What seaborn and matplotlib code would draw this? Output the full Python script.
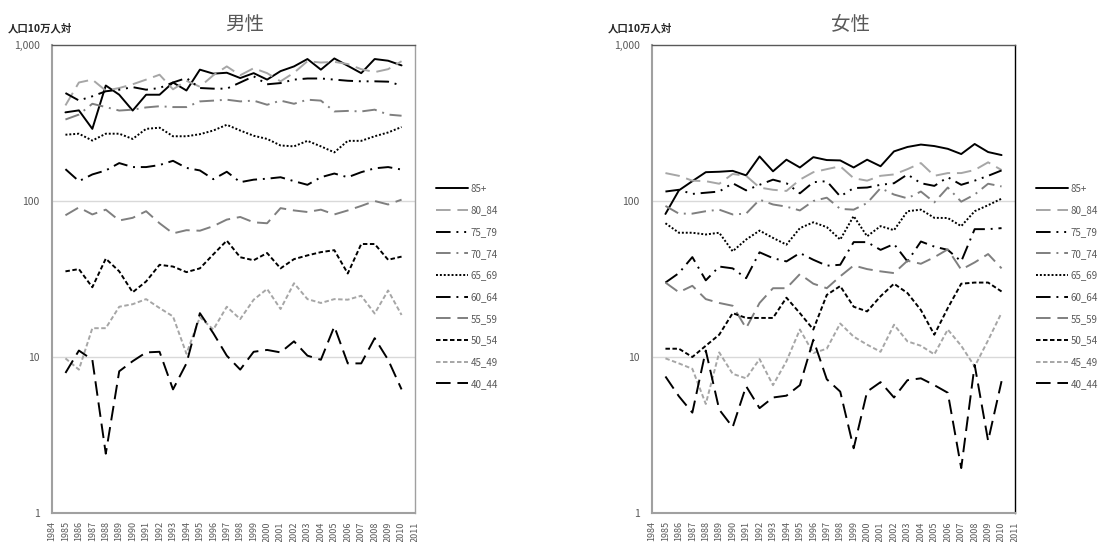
import matplotlib
matplotlib.use("Agg")
import matplotlib.pyplot as plt
import seaborn as sns
import numpy as np
import pandas as pd

years = list(range(1985, 2011))
age_groups = ["85+", "80_84", "75_79", "70_74", "65_69", "60_64", "55_59", "50_54", "45_49", "40_44"]

# 男性 (人口10万人対)
male_85 = [370, 381, 290, 550, 480, 380, 480, 480, 575, 511, 695, 655, 664, 614, 660, 600, 680, 729, 813, 695, 820, 736, 660, 813, 793, 740]
male_80_84 = [410, 575, 600, 510, 530, 560, 600, 645, 520, 590, 540, 640, 729, 640, 710, 660, 585, 664, 787, 772, 780, 755, 700, 670, 700, 787]
male_75_79 = [492, 441, 469, 505, 517, 537, 517, 530, 575, 614, 530, 525, 525, 575, 630, 560, 570, 600, 610, 610, 600, 590, 585, 585, 582, 550]
male_70_74 = [333, 358, 420, 400, 380, 385, 398, 405, 400, 400, 435, 440, 446, 435, 440, 414, 440, 420, 446, 440, 375, 378, 375, 385, 358, 352]
male_65_69 = [266, 270, 244, 270, 270, 250, 290, 295, 260, 260, 268, 283, 308, 283, 262, 250, 227, 224, 243, 224, 205, 243, 243, 260, 275, 298]
male_60_64 = [160, 134, 148, 157, 175, 165, 165, 170, 181, 163, 157, 138, 154, 132, 137, 139, 142, 134, 127, 142, 150, 142, 153, 162, 165, 159]
male_55_59 = [81, 91, 82, 88, 75, 78, 86, 72, 62, 65, 64.5, 69, 76, 79, 73, 72, 90, 87, 85, 88, 82, 87, 93, 100, 95, 102]
male_50_54 = [35.4, 36.6, 28, 42.7, 35.4, 26, 30.5, 39, 38, 35, 37, 45.5, 55.7, 43.6, 41.7, 46.4, 37, 42.4, 44.8, 47, 48.4, 34.3, 53, 53, 42, 44]
male_45_49 = [9.8, 8.3, 15.3, 15.3, 21, 21.8, 23.5, 20.6, 18.2, 10.5, 18, 15, 21, 17.5, 23.3, 27.3, 20.3, 29.7, 23.5, 22.2, 23.5, 23.3, 24.7, 19, 26.7, 18.6]
male_40_44 = [7.9, 11, 9.6, 2.4, 8.1, 9.4, 10.7, 10.8, 6.2, 9.1, 19.1, 14.2, 10.2, 8.3, 10.8, 11.1, 10.7, 12.6, 10.2, 9.6, 15.7, 9.1, 9.1, 13.2, 9.6, 6.2]

# 女性 (人口10万人対)
female_85 = [82.6, 117, 134, 153, 154, 156, 146, 193, 155, 184, 164, 191, 183, 182, 164, 184, 167, 208, 222, 230, 225, 216, 200, 232, 206, 197]
female_80_84 = [151, 145, 135, 134, 129, 149, 145, 122, 118, 116, 137, 153, 160, 167, 140, 135, 145, 148, 160, 175, 145, 151, 151, 158, 177, 158]
female_75_79 = [115, 118, 111, 113, 115, 130, 117, 127, 137, 130, 112, 132, 134, 107, 121, 122, 127, 130, 148, 130, 125, 142, 127, 135, 145, 157]
female_70_74 = [93, 83, 83, 86, 88, 82, 83, 102, 95, 92, 87, 100, 105, 89, 88, 97, 121, 110, 104, 115, 98, 122, 99, 110, 129, 124]
female_65_69 = [72, 62.6, 62.6, 61, 62.6, 47.6, 56.6, 64.6, 58, 52.5, 67, 73, 68, 56.6, 80, 59.4, 69, 65, 86, 88, 78, 77.8, 69, 86, 94, 103.5]
female_60_64 = [30, 34.5, 43.7, 31, 38, 37, 32, 46.9, 43, 41, 46.4, 42, 38.5, 39, 54.5, 54.5, 48.6, 53, 41, 55, 51, 48.6, 41, 66, 66, 67]
female_55_59 = [30, 26, 28.6, 23.5, 22.2, 21.3, 15.3, 22.2, 27.6, 27.6, 34, 29.5, 27.6, 32.9, 38.6, 36.6, 35.4, 34.5, 41.4, 39.6, 43.6, 49, 36.3, 40.4, 45.7, 37]
female_50_54 = [11.3, 11.3, 10, 11.8, 13.9, 19.1, 17.8, 17.8, 17.8, 24, 19.1, 15, 25, 28.5, 21, 19.6, 24.5, 29.5, 25.7, 20, 13.9, 20.6, 29.5, 30, 30, 26.3]
female_45_49 = [9.8, 9.1, 8.4, 5.0, 10.7, 7.8, 7.3, 9.7, 6.6, 9.4, 15, 10.6, 11.3, 16.4, 13.5, 12, 10.8, 16.1, 12.6, 11.8, 10.4, 15, 11.8, 8.7, 12.8, 19.2]
female_40_44 = [7.5, 5.6, 4.4, 11, 4.6, 3.55, 6.5, 4.7, 5.5, 5.65, 6.6, 12.9, 7.2, 6.0, 2.6, 6.0, 6.9, 5.5, 7.1, 7.3, 6.6, 5.9, 1.94, 8.9, 2.9, 7.0]

x_ticks = list(range(1984, 2012))
y_ticks = [1, 10, 100, 1000]
y_tick_labels = ["1", "10", "100", "1,000"]

# 系列ごとの色と線種
palette = {
    "85+": "#000000", "80_84": "#A6A6A6", "75_79": "#000000", "70_74": "#7F7F7F",
    "65_69": "#000000", "60_64": "#000000", "55_59": "#7F7F7F", "50_54": "#000000",
    "45_49": "#A6A6A6", "40_44": "#000000",
}
dashes = {
    "85+": "", "80_84": (7.5, 3.5), "75_79": (7.5, 3, 1, 3, 1, 3), "70_74": (7.5, 3, 1, 3),
    "65_69": (1, 1), "60_64": (7.5, 3, 1, 3), "55_59": (7.5, 3.5), "50_54": (2.3, 1.3),
    "45_49": (2.3, 1.3), "40_44": (7.5, 3.5),
}

TEXT_GRAY = "#595959"


def to_long(series_list):
    rows = []
    for name, vals in zip(age_groups, series_list):
        for yr, v in zip(years, vals):
            rows.append({"year": yr, "rate": v, "age": name})
    return pd.DataFrame(rows)


def draw_panel(fig, rect, df, title, title_x, ylabel_x, legend_x, right_color):
    ax = fig.add_axes(rect)
    sns.lineplot(
        data=df, x="year", y="rate", hue="age", style="age",
        hue_order=age_groups, style_order=age_groups,
        palette=palette, dashes=dashes, linewidth=1.4, legend=False, ax=ax,
    )
    ax.set_yscale("log")
    ax.set_ylim(1, 1000)
    ax.set_xlim(1984, 2011)
    ax.set_yticks(y_ticks)
    ax.set_yticklabels(y_tick_labels)
    ax.yaxis.set_minor_locator(matplotlib.ticker.NullLocator())
    ax.set_xticks(x_ticks)
    ax.set_xticklabels([str(t) for t in x_ticks], rotation=90)
    ax.tick_params(axis="x", labelsize=6.5, colors=TEXT_GRAY, length=4, width=0.8,
                   color="#A0A0A0", pad=2)
    ax.tick_params(axis="y", labelsize=7.5, colors=TEXT_GRAY, length=4, width=0.8,
                   color="#A0A0A0", pad=5)
    ax.set_xlabel("")
    ax.set_ylabel("")
    ax.grid(False)
    for v in [10, 100]:
        ax.axhline(v, color="#D9D9D9", linewidth=1.0, zorder=0)
    for side in ["left", "bottom"]:
        ax.spines[side].set_color("#A0A0A0")
        ax.spines[side].set_linewidth(1.5)
    ax.spines["top"].set_color("#595959")
    ax.spines["top"].set_linewidth(1.0)
    ax.spines["right"].set_color(right_color)
    ax.spines["right"].set_linewidth(1.0)
    ax.set_facecolor("white")

    fig.text(title_x, 0.955, title, ha="center", va="center", fontsize=14, color=TEXT_GRAY)
    fig.text(ylabel_x, 0.948, "人口10万人対", ha="left", va="center", fontsize=7.5,
             fontweight="bold", color="#262626")

    handles = ax.get_lines()[: len(age_groups)]
    leg = ax.legend(
        handles, age_groups, loc="center left", bbox_to_anchor=(legend_x, 0.472),
        bbox_transform=fig.transFigure, frameon=False, fontsize=7,
        handlelength=3.3, handletextpad=0.25, labelspacing=1.2,
        borderpad=0, borderaxespad=0,
    )
    for t in leg.get_texts():
        t.set_color(TEXT_GRAY)
    return ax


sns.set_theme(style="white")
plt.rcParams["font.family"] = ["Noto Sans CJK JP", "DejaVu Sans"]

fig = plt.figure(figsize=(11.02, 5.42), dpi=100)

male_df = to_long([male_85, male_80_84, male_75_79, male_70_74, male_65_69,
                   male_60_64, male_55_59, male_50_54, male_45_49, male_40_44])
female_df = to_long([female_85, female_80_84, female_75_79, female_70_74, female_65_69,
                     female_60_64, female_55_59, female_50_54, female_45_49, female_40_44])

W, H = 1102, 542
draw_panel(fig, [52 / W, 1 - 513 / H, 363 / W, 468 / H], male_df, "男性",
           245 / W, 8 / W, 436 / W, "#A0A0A0")
draw_panel(fig, [652 / W, 1 - 513 / H, 363 / W, 468 / H], female_df, "女性",
           850 / W, 608 / W, 1036 / W, "#000000")

fig.savefig("out.png", dpi=100, facecolor="white")
plt.close(fig)
